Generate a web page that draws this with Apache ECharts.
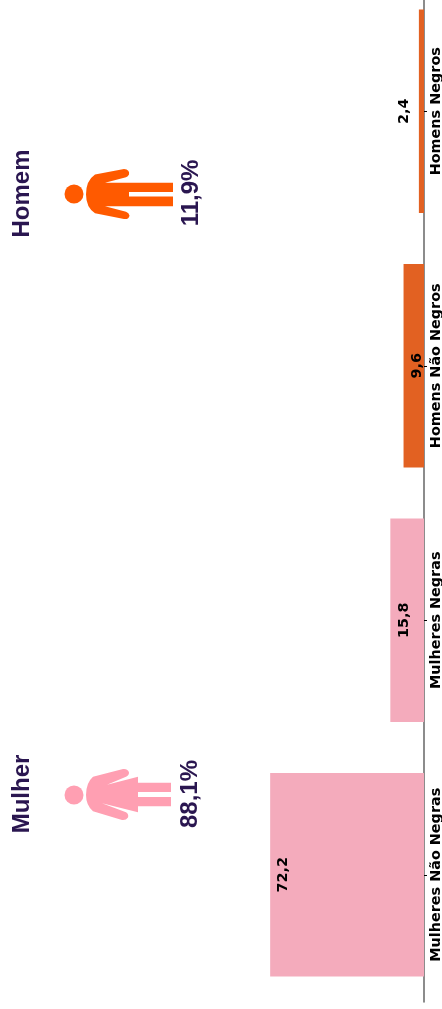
<!DOCTYPE html>
<html>
<head>
<meta charset="utf-8">
<style>
  html, body { margin: 0; padding: 0; background: #fff; }
  #chart { width: 442px; height: 1009px; }
</style>
<script src="https://cdn.jsdelivr.net/npm/echarts@6/dist/echarts.min.js"></script>
</head>
<body>
<div id="chart"></div>
<script>
const categories = ["Homens Negros", "Homens Não Negros", "Mulheres Negras", "Mulheres Não Negras"];
const values = [2.4, 9.6, 15.8, 72.2];
const barColors = ["#E26122", "#E26122", "#F4ABBC", "#F4ABBC"];
const groupNames = ["Homem", "Mulher"];
const groupShares = ["11,9%", "88,1%"];

const manPath = "M95 175L124 169.5Q130 170 129 175Q128 177 126 177.5L105 183L173 183L173 192L129 192L129 196.5L173 196.5L173 206L105 206L126 211.5Q129 212.5 129.5 215Q129 219 124 218.5L95 213Q86 207 86 194.5Q86 181 95 175Z";
const womanPath = "M93 777L123 769.5Q128 769 129 773Q129 776 126 777L107 785L138 777L138 783L171 783L171 792L138 792L138 797L171 797L171 806L138 806L138 812L102 803L126 812Q129 814 128 817Q126 820 122 819.5L93 811Q86 805 86 795Q86 783 93 777Z";

// texto girado 90 graus, como no original
function rotatedText(text, x, y, color) {
  return {
    type: "text",
    x: x,
    y: y,
    rotation: Math.PI / 2,
    style: {
      text: text,
      fill: color,
      font: "bold 24px 'Liberation Sans'",
      align: "center",
      verticalAlign: "middle",
    },
  };
}

function formatValue(params) {
  return String(params.value).replace(".", ",");
}

// bonecos de homem e mulher
function renderIcons() {
  return {
    type: "group",
    children: [
      { type: "circle", shape: { cx: 74, cy: 194, r: 9.5 }, style: { fill: "#FF5A00" } },
      { type: "path", shape: { pathData: manPath, layout: "cover", x: 86, y: 169, width: 87, height: 50 }, style: { fill: "#FF5A00" } },
      { type: "circle", shape: { cx: 74, cy: 795, r: 9.5 }, style: { fill: "#FF9FB2" } },
      { type: "path", shape: { pathData: womanPath, layout: "cover", x: 86, y: 769, width: 85, height: 51 }, style: { fill: "#FF9FB2" } },
    ],
  };
}

const mychart = echarts.init(document.getElementById("chart"), null, { renderer: "canvas" });
mychart.setOption({
  animation: false,
  grid: { left: 0, width: 424, top: -16, height: 1018, outerBoundsMode: "none" },
  xAxis: {
    type: "value",
    inverse: true,
    min: 0,
    max: 199,
    show: false,
  },
  yAxis: {
    type: "category",
    inverse: true,
    position: "right",
    data: categories,
    axisLine: { show: true, lineStyle: { color: "#666", width: 1.5 } },
    axisTick: { show: true, length: 3, alignWithLabel: true, lineStyle: { color: "#000" } },
    axisLabel: {
      rotate: 90,
      margin: 5.5,
      color: "#000",
      fontFamily: "DejaVu Sans",
      fontWeight: "bold",
      fontSize: 14.4,
    },
  },
  series: [
    {
      type: "bar",
      barCategoryGap: "20%",
      data: values.map((v, i) => ({
        value: v,
        itemStyle: { color: barColors[i] },
        label: v < 5 ? { position: "left", distance: 15 } : { position: "insideLeft", distance: 13.5 },
      })),
      label: {
        show: true,
        rotate: 90,
        align: "center",
        verticalAlign: "middle",
        color: "#000",
        fontFamily: "DejaVu Sans",
        fontWeight: "bold",
        fontSize: 14.4,
        formatter: formatValue,
      },
    },
    {
      type: "custom",
      coordinateSystem: "none",
      silent: true,
      data: [[0]],
      renderItem: renderIcons,
    },
  ],
  graphic: [
    rotatedText(groupNames[0], 22, 193.5, "#2A1650"),
    rotatedText(groupNames[1], 22, 794, "#2A1650"),
    rotatedText(groupShares[0], 191.5, 193, "#2A1650"),
    rotatedText(groupShares[1], 190.5, 794, "#2A1650"),
  ],
});
</script>
</body>
</html>
